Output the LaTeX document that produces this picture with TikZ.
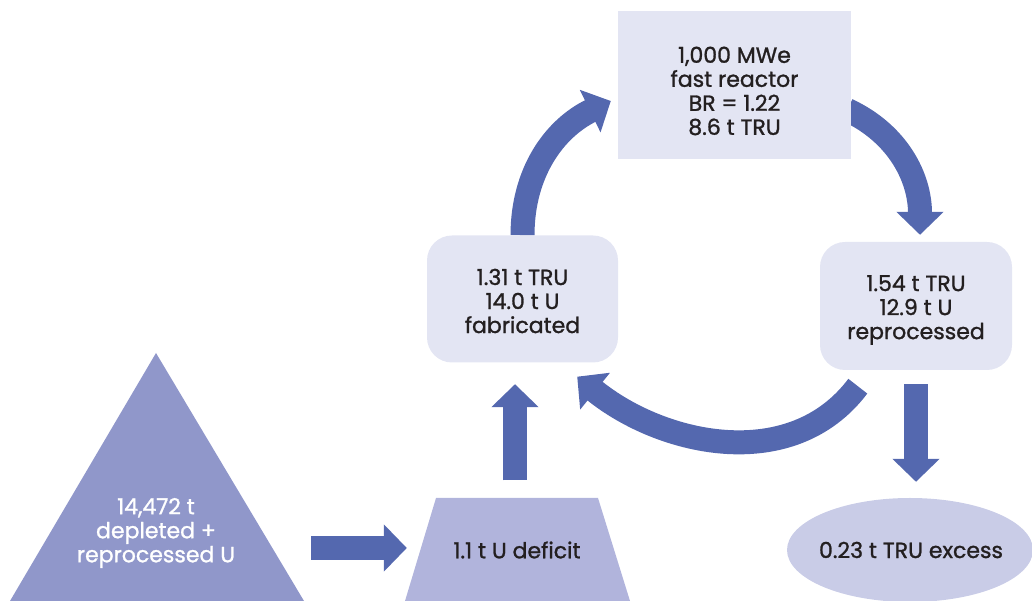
\documentclass[tikz,border=0pt]{standalone}
\usepackage{fontspec}
\setmainfont{Poppins}[BoldFont=Poppins,BoldFeatures={FakeBold=1.2}]
\usetikzlibrary{arrows.meta,backgrounds}
\definecolor{flowblue}{HTML}{5468AF}
\definecolor{stockfill}{HTML}{9097CA}
\definecolor{deffill}{HTML}{B1B4DC}
\definecolor{boxfill}{HTML}{E3E5F3}
\definecolor{excfill}{HTML}{C9CCE7}
\definecolor{ink}{HTML}{231F20}
\tikzset{
  lbl/.style={align=center,text=ink,font=\fontsize{22}{24}\selectfont\bfseries,inner sep=0pt},
  boxshape/.style={fill=boxfill,inner sep=0pt},
  cyclebox/.style={boxshape,rounded corners=25pt,minimum width=191pt,minimum height=127pt},
  flow/.style={draw=flowblue,line width=24pt,-{Triangle[width=46pt,length=23pt]}}
}
\begin{document}
\begin{tikzpicture}[x=1pt,y=1pt]
  \useasboundingbox (0,0) rectangle (1032,601);
  \fill[stockfill] (10,0) -- (156,248) -- (304,0) -- cycle;
  \fill[deffill] (405,0) -- (436,103) -- (598,103) -- (630,0) -- cycle;
  \fill[excfill] (910,51) ellipse [x radius=123pt,y radius=52pt];
  \node[lbl,text=white,minimum width=294pt] (stock) at (156,68) {14,472 t\\depleted +\\reprocessed U};
  \node[lbl,minimum width=162pt,minimum height=103pt] (deficit) at (517,51) {1.1 t U deficit};
  \node[lbl,minimum width=246pt,minimum height=104pt] (excess) at (911,51) {0.23 t TRU excess};
  \node[boxshape,minimum width=233pt,minimum height=148pt] (reactor) at (734.5,516) {};
  \node[cyclebox] (fab) at (522.5,302) {};
  \node[cyclebox,minimum width=192pt,minimum height=128pt] (repro) at (916,295) {};
  \node[lbl] (reactorTxt) at ([yshift=-6pt]reactor.center) {1,000 MWe\\fast reactor\\BR = 1.22\\8.6 t TRU};
  \node[lbl] (fabTxt) at ([yshift=-2pt]fab.center) {1.31 t TRU\\14.0 t U\\fabricated};
  \node[lbl] (reproTxt) at ([yshift=-4pt]repro.center) {1.54 t TRU\\12.9 t U\\reprocessed};
  \begin{pgfonlayer}{background}
    \draw[flow] (fab.north) to[out=90,in=206] ([xshift=-7pt,yshift=-16pt]reactor.west);
    \draw[flow] ([xshift=-4pt,yshift=-25pt]reactor.east) to[out=-25,in=90] ([xshift=4pt,yshift=7pt]repro.north);
    \draw[flow] ([xshift=38pt,yshift=-16pt]repro.south west) to[out=233,in=-39] ([xshift=-41pt,yshift=-14pt]fab.south east);
  \end{pgfonlayer}
  \draw[flow] ([xshift=8pt,yshift=-15pt]stock.east) -- ([xshift=-29pt,yshift=2pt]deficit.west);
  \draw[flow] ([xshift=-2pt,yshift=18pt]deficit.north) -- ([xshift=-7.5pt,yshift=-21.5pt]fab.south);
  \draw[flow] ([yshift=-14pt]repro.south) -- ([xshift=5pt,yshift=16pt]excess.north);
\end{tikzpicture}
\end{document}
